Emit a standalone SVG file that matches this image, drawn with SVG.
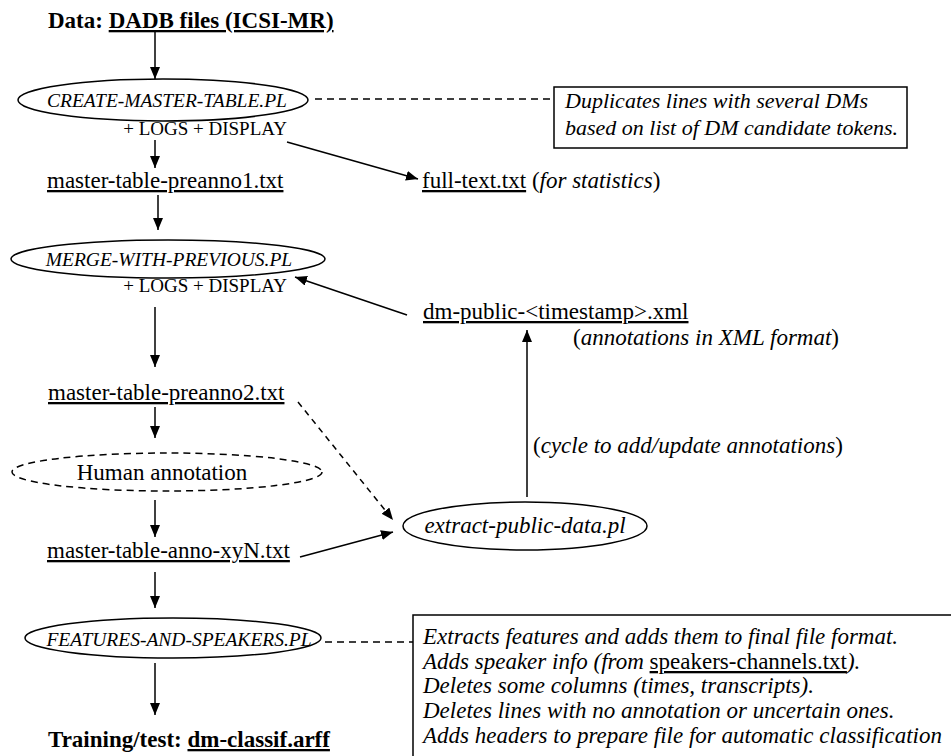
<svg xmlns="http://www.w3.org/2000/svg" width="951" height="756" viewBox="0 0 951 756">
<defs>
<marker id="ah" markerUnits="userSpaceOnUse" markerWidth="13" markerHeight="11" refX="12" refY="5" orient="auto">
<path d="M0,0 L12,5 L0,10 z" fill="#000"/>
</marker>
<style>
text{font-family:"Liberation Serif","Times New Roman",serif;fill:#000}
.t{font-size:23px}
.b{font-size:23px;font-weight:bold}
.it{font-style:italic}
.cap{font-size:19.5px;font-style:italic}
.logs{font-size:19px}
.u{text-decoration:underline}
.node{fill:#fff;stroke:#000;stroke-width:1.5}
.dn{fill:none;stroke:#000;stroke-width:1.5;stroke-dasharray:7,5}
.c{fill:none;stroke:#000;stroke-width:1.5;marker-end:url(#ah)}
.cd{fill:none;stroke:#000;stroke-width:1.5;stroke-dasharray:6,5;marker-end:url(#ah)}
.d{fill:none;stroke:#000;stroke-width:1.5;stroke-dasharray:7,5}
.box{fill:#fff;stroke:#000;stroke-width:1.5}
</style>
</defs>
<rect width="951" height="756" fill="#fff"/>

<g id="connectors">
<line class="c" x1="155" y1="32" x2="155" y2="79"/>
<line class="c" x1="155" y1="140" x2="155" y2="168"/>
<line class="c" x1="287" y1="142" x2="418" y2="179"/>
<line class="c" x1="158" y1="195" x2="158" y2="230"/>
<line class="c" x1="155" y1="307" x2="155" y2="367"/>
<line class="c" x1="155" y1="407" x2="155" y2="438"/>
<line class="c" x1="155" y1="500" x2="155" y2="537"/>
<line class="c" x1="300" y1="557" x2="393" y2="532"/>
<line class="cd" x1="298" y1="402" x2="393" y2="520"/>
<line class="c" x1="155" y1="572" x2="155" y2="608"/>
<line class="c" x1="155" y1="663" x2="155" y2="715"/>
<line class="c" x1="527" y1="497" x2="527" y2="330"/>
<line class="c" x1="407" y1="315" x2="295" y2="277"/>
<line class="d" x1="315" y1="99" x2="554" y2="99"/>
<line class="d" x1="325" y1="642" x2="413" y2="642"/>
</g>

<g id="data-source">
<text class="b" x="48" y="28">Data: <tspan class="u">DADB files (ICSI-MR)</tspan></text>
</g>

<g id="create-master-table">
<ellipse class="node" cx="163" cy="100" rx="145" ry="21"/>
<text class="cap" x="167" y="107" text-anchor="middle">CREATE-MASTER-TABLE.PL</text>
<text class="logs" x="287" y="135" text-anchor="end">+ LOGS + DISPLAY</text>
</g>

<g id="note-duplicates">
<rect class="box" x="554" y="87" width="353" height="61"/>
<text class="t it" style="font-size:22px" x="565" y="108">Duplicates lines with several DMs</text>
<text class="t it" style="font-size:22px" x="565" y="135">based on list of DM candidate tokens.</text>
</g>

<g id="full-text">
<text class="t" x="422" y="188"><tspan class="u">full-text.txt</tspan> (<tspan class="it">for statistics</tspan>)</text>
</g>

<g id="preanno1">
<text class="t" x="47" y="188"><tspan class="u">master-table-preanno1.txt</tspan></text>
</g>

<g id="merge-with-previous">
<ellipse class="node" cx="168" cy="259" rx="157" ry="19"/>
<text class="cap" x="169" y="266" text-anchor="middle">MERGE-WITH-PREVIOUS.PL</text>
<text class="logs" x="287" y="292" text-anchor="end">+ LOGS + DISPLAY</text>
</g>

<g id="dm-public">
<text class="t" x="423" y="319"><tspan class="u">dm-public-&lt;timestamp&gt;.xml</tspan></text>
<text class="t" x="573" y="345">(<tspan class="it">annotations in XML format</tspan>)</text>
</g>

<g id="preanno2">
<text class="t" x="48" y="400"><tspan class="u">master-table-preanno2.txt</tspan></text>
</g>

<g id="cycle-label">
<text class="t" x="533" y="453">(<tspan class="it">cycle to add/update annotations</tspan>)</text>
</g>

<g id="human-annotation">
<ellipse class="dn" cx="167" cy="472" rx="155" ry="19"/>
<text class="t" x="162" y="480" text-anchor="middle">Human annotation</text>
</g>

<g id="extract-public-data">
<ellipse class="node" cx="525" cy="526" rx="122" ry="24"/>
<text class="t it" x="525" y="533" text-anchor="middle">extract-public-data.pl</text>
</g>

<g id="anno-xyN">
<text class="t" x="47" y="558"><tspan class="u">master-table-anno-xyN.txt</tspan></text>
</g>

<g id="features-and-speakers">
<ellipse class="node" cx="173" cy="638" rx="148" ry="20"/>
<text class="cap" x="179" y="646" text-anchor="middle">FEATURES-AND-SPEAKERS.PL</text>
</g>

<g id="note-features">
<rect class="box" x="413" y="615" width="560" height="160"/>
<text class="t it" x="423" y="644">Extracts features and adds them to final file format.</text>
<text class="t it" x="423" y="669">Adds speaker info (from <tspan class="u" font-style="normal">speakers-channels.txt</tspan>).</text>
<text class="t it" x="423" y="693">Deletes some columns (times, transcripts).</text>
<text class="t it" x="423" y="718">Deletes lines with no annotation or uncertain ones.</text>
<text class="t it" x="423" y="743">Adds headers to prepare file for automatic classification</text>
</g>

<g id="training-test">
<text class="b" x="48" y="747">Training/test: <tspan class="u">dm-classif.arff</tspan></text>
</g>
</svg>
